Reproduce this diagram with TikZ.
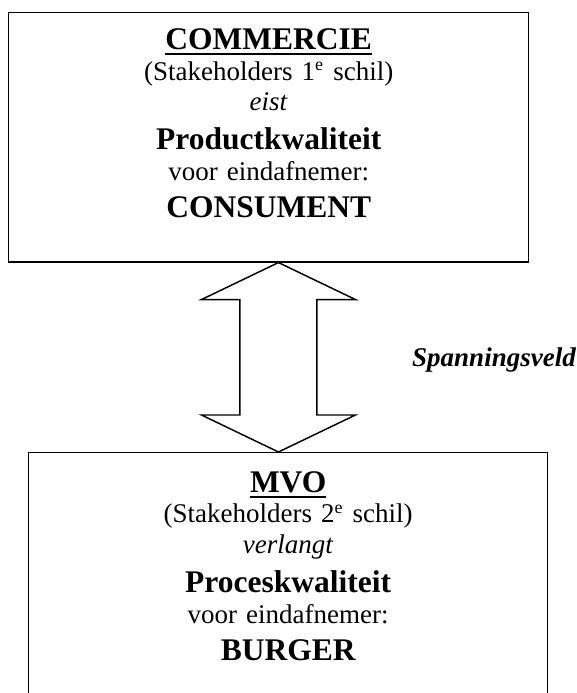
\documentclass[tikz,border=0pt]{standalone}
\usepackage{fontspec}
\setmainfont{Liberation Serif}
\usepackage{tikz}
\usetikzlibrary{calc,positioning}
\newcommand{\kop}[1]{{\fontsize{14}{13.6}\selectfont\bfseries #1}}
\newcommand{\kopstreep}[1]{\setbox0\hbox{#1}\rlap{\rule[-2.4pt]{\wd0}{0.9pt}}\box0}
\tikzset{
  kader/.style   ={draw, line width=0.65pt, rectangle, inner sep=0pt,
                   align=center, text width=#1,
                   font=\fontsize{12}{13.6}\selectfont},
  kader/.default=231pt,
  blokpijl/.style={draw, line width=0.65pt, line join=miter, fill=white},
  veldtekst/.style={inner sep=0pt, font=\fontsize{12}{13.6}\selectfont\bfseries\itshape},
}
\begin{document}
\begin{tikzpicture}[x=0.4444pt, y=0.4444pt]
\useasboundingbox (0,0) rectangle (577,693);
\clip (0,0) rectangle (577,693);

%% ─── Commercie (1e schil) ───────────────────────────────────────────────────
\node[kader=231.1pt, text height=16.4pt, text depth=94.3pt, anchor=north west]
  (commercie) at (8,681) {%
  \kop{\kopstreep{COMMERCIE}}\\
  (Stakeholders 1\textsuperscript{e} schil)\\
  \textit{eist}\\[3.8pt]
  \kop{Productkwaliteit}\\
  voor eindafnemer:\\[2.8pt]
  \kop{CONSUMENT}};

%% ─── MVO (2e schil) ─────────────────────────────────────────────────────────
\node[kader=230.6pt, text height=17.6pt, text depth=110.4pt, anchor=north west]
  (mvo) at (28,241) {%
  \kop{\kopstreep{MVO}}\\
  (Stakeholders 2\textsuperscript{e} schil)\\
  \textit{verlangt}\\[3.8pt]
  \kop{Proceskwaliteit}\\
  voor eindafnemer:\\[2.8pt]
  \kop{BURGER}};

%% ─── Spanningsveld ──────────────────────────────────────────────────────────
\coordinate (pijlas) at ($(commercie.south)!0.5!(mvo.north)$);
\coordinate (ptop) at (commercie.south -| pijlas);
\coordinate (pbot) at (mvo.north -| pijlas);
\draw[blokpijl] (ptop) -- ++(77,-37) -- ++(-38.5,0) -- ($(pbot)+(38.5,37)$)
  -- ++(38.5,0) -- (pbot) -- ++(-77,37) -- ++(38.5,0)
  -- ($(ptop)+(-38.5,-37)$) -- ++(-38.5,0) -- cycle;

\node[veldtekst, anchor=base] (spanning) at (494,326) {Spanningsveld};

\end{tikzpicture}
\end{document}
